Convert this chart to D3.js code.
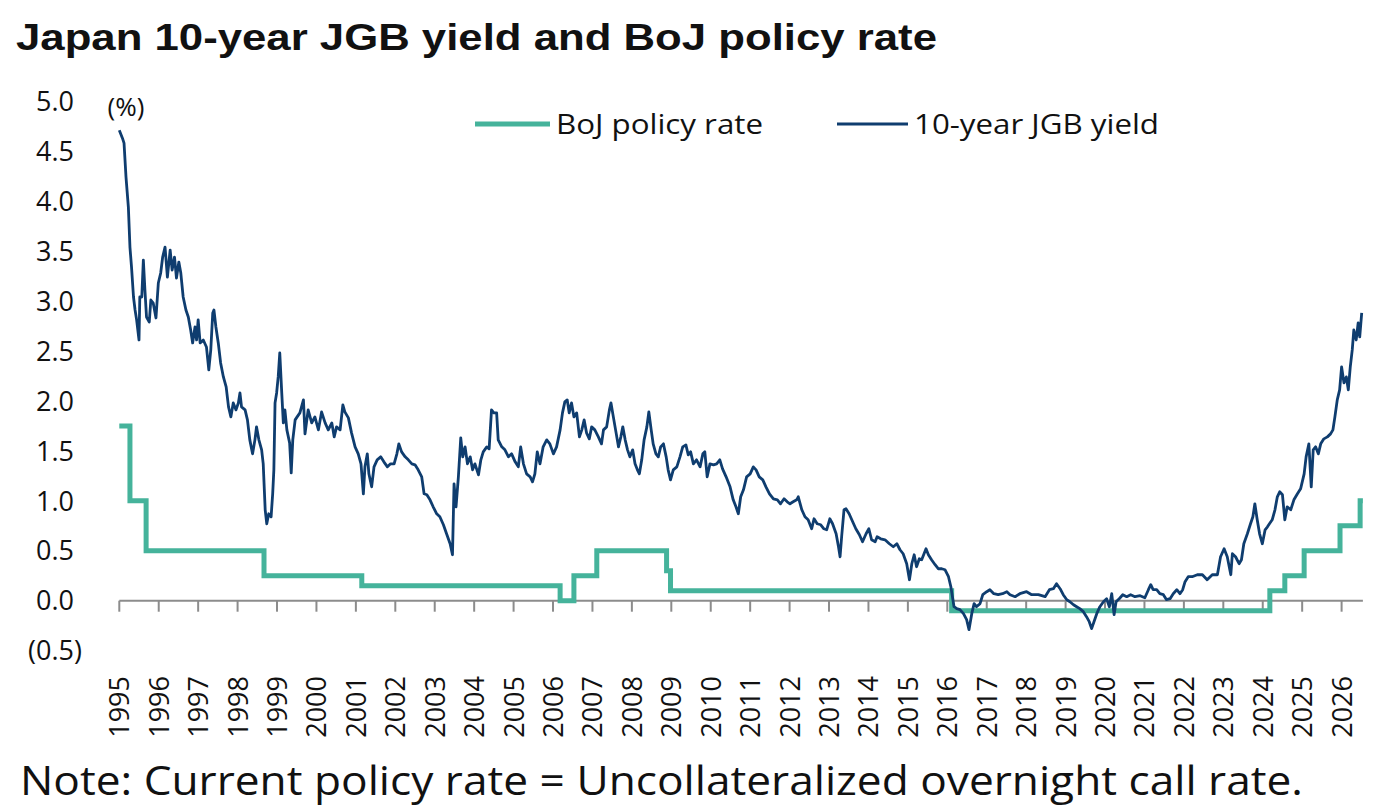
<!DOCTYPE html>
<html>
<head>
<meta charset="utf-8">
<script src="https://cdn.jsdelivr.net/npm/d3@7"></script>
<style>
  body { margin: 0; background: #fff; }
  #chart text { fill: #111; }
</style>
</head>
<body>
<div id="chart"></div>
<script>
// 10-year JGB yield (decimal year, %)
const jgbDates = [
  1995.00,1995.08,1995.12,1995.17,1995.23,1995.27,1995.31,1995.36,1995.40,1995.44,1995.50,1995.52,1995.57,1995.61,1995.65,1995.69,1995.76,1995.80,1995.86,1995.93,1995.99,
  1996.05,1996.10,1996.16,1996.22,1996.29,1996.34,1996.40,1996.45,1996.51,1996.56,1996.62,1996.69,1996.75,1996.81,1996.86,1996.92,1996.96,
  1997.00,1997.05,1997.13,1997.21,1997.27,1997.32,1997.37,1997.40,1997.45,1997.51,1997.57,1997.64,1997.71,1997.77,1997.83,1997.89,1997.96,
  1998.02,1998.06,1998.10,1998.19,1998.25,1998.31,1998.38,1998.44,1998.48,1998.54,1998.61,1998.65,1998.70,1998.74,1998.79,1998.85,1998.89,1998.92,1998.95,1998.99,
  1999.03,1999.07,1999.12,1999.16,1999.20,1999.25,1999.32,1999.36,1999.40,1999.46,1999.51,1999.58,1999.67,1999.71,1999.79,1999.88,1999.96,
  2000.05,2000.13,2000.22,2000.30,2000.39,2000.45,2000.51,2000.60,2000.67,2000.72,2000.81,2000.89,2000.98,
  2001.06,2001.13,2001.19,2001.23,2001.29,2001.33,2001.40,2001.46,2001.54,2001.63,2001.71,2001.80,2001.88,2001.97,
  2002.04,2002.09,2002.16,2002.25,2002.33,2002.42,2002.50,2002.58,2002.67,2002.73,2002.80,2002.88,2002.96,
  2003.05,2003.13,2003.22,2003.30,2003.39,2003.45,2003.49,2003.54,2003.60,2003.66,2003.71,2003.77,2003.83,2003.90,2003.96,
  2004.02,2004.11,2004.17,2004.23,2004.32,2004.38,2004.44,2004.50,2004.57,2004.61,2004.70,2004.78,2004.87,2004.95,
  2005.04,2005.12,2005.18,2005.25,2005.33,2005.42,2005.48,2005.54,2005.60,2005.67,2005.75,2005.84,2005.92,
  2006.01,2006.09,2006.18,2006.24,2006.30,2006.36,2006.41,2006.47,2006.53,2006.60,2006.67,2006.73,2006.79,2006.85,2006.92,2006.98,
  2007.06,2007.15,2007.23,2007.28,2007.36,2007.43,2007.47,2007.53,2007.60,2007.66,2007.72,2007.77,2007.83,2007.89,2007.95,
  2008.02,2008.08,2008.14,2008.19,2008.25,2008.31,2008.38,2008.43,2008.49,2008.54,2008.61,2008.67,2008.73,2008.80,2008.87,2008.92,2008.98,
  2009.05,2009.14,2009.22,2009.29,2009.37,2009.43,2009.49,2009.56,2009.64,2009.73,2009.80,2009.85,2009.91,2009.98,
  2010.07,2010.15,2010.23,2010.30,2010.39,2010.49,2010.57,2010.64,2010.70,2010.76,2010.83,2010.91,
  2011.00,2011.08,2011.15,2011.23,2011.32,2011.40,2011.49,2011.59,2011.69,2011.77,2011.86,2011.94,
  2012.01,2012.09,2012.18,2012.22,2012.31,2012.39,2012.47,2012.56,2012.62,2012.70,2012.79,2012.87,2012.94,
  2013.02,2013.09,2013.18,2013.24,2013.28,2013.32,2013.38,2013.43,2013.51,2013.60,2013.68,2013.77,2013.85,2013.94,
  2014.01,2014.08,2014.17,2014.22,2014.31,2014.42,2014.53,2014.63,2014.72,2014.80,2014.88,2014.97,
  2015.04,2015.10,2015.16,2015.22,2015.29,2015.35,2015.41,2015.46,2015.52,2015.60,2015.69,2015.77,2015.86,2015.94,
  2016.03,2016.09,2016.13,2016.17,2016.24,2016.32,2016.41,2016.49,2016.55,2016.62,2016.68,2016.74,2016.83,2016.90,
  2017.00,2017.08,2017.18,2017.29,2017.40,2017.51,2017.59,2017.72,2017.84,
  2018.01,2018.14,2018.31,2018.48,2018.59,2018.69,2018.77,2018.86,2018.94,
  2019.03,2019.11,2019.20,2019.28,2019.36,2019.45,2019.53,2019.60,2019.66,2019.72,2019.79,2019.87,2019.96,
  2020.04,2020.11,2020.17,2020.23,2020.28,2020.36,2020.45,2020.55,2020.65,2020.76,2020.89,
  2021.01,2021.10,2021.16,2021.22,2021.31,2021.39,2021.48,2021.56,2021.65,2021.73,2021.82,2021.90,2021.97,
  2022.03,2022.11,2022.21,2022.34,2022.47,2022.59,2022.72,2022.85,2022.93,
  2023.02,2023.10,2023.19,2023.23,2023.31,2023.40,2023.46,2023.52,2023.61,2023.69,2023.75,2023.80,2023.86,2023.92,2023.99,
  2024.06,2024.12,2024.17,2024.24,2024.31,2024.37,2024.43,2024.50,2024.56,2024.62,2024.71,2024.79,2024.88,2024.96,
  2025.05,2025.10,2025.17,2025.23,2025.28,2025.34,2025.41,2025.47,2025.55,2025.64,2025.72,2025.78,2025.83,2025.89,2025.95,
  2026.00,2026.06,2026.12,2026.17,2026.22,2026.27,2026.31,2026.37,2026.42,2026.46,2026.51
];
const jgbValues = [
  4.71,4.63,4.58,4.24,3.94,3.54,3.34,3.04,2.91,2.81,2.61,3.04,3.04,3.41,3.11,2.84,2.79,3.01,2.98,2.83,3.18,
  3.28,3.44,3.54,3.24,3.51,3.31,3.44,3.23,3.39,3.28,3.04,2.91,2.84,2.71,2.58,2.74,2.61,
  2.81,2.58,2.61,2.54,2.31,2.51,2.88,2.91,2.74,2.58,2.38,2.24,2.14,1.94,1.84,1.98,1.91,
  1.98,2.08,1.94,1.91,1.81,1.61,1.47,1.61,1.74,1.61,1.51,1.37,0.91,0.77,0.87,0.84,1.07,1.31,1.98,2.08,
  2.24,2.48,2.08,1.78,1.91,1.71,1.58,1.28,1.61,1.81,1.84,1.88,2.01,1.67,1.91,1.78,1.84,
  1.71,1.89,1.78,1.71,1.78,1.64,1.74,1.71,1.96,1.89,1.83,1.68,1.54,
  1.47,1.37,1.07,1.34,1.47,1.27,1.14,1.34,1.41,1.44,1.39,1.34,1.37,1.37,
  1.47,1.57,1.49,1.44,1.41,1.37,1.36,1.31,1.24,1.07,1.06,1.01,0.94,
  0.87,0.84,0.76,0.67,0.57,0.46,1.17,0.94,1.24,1.63,1.44,1.54,1.37,1.44,1.31,
  1.37,1.26,1.41,1.49,1.54,1.52,1.91,1.88,1.88,1.61,1.54,1.51,1.44,1.47,
  1.39,1.34,1.54,1.37,1.27,1.24,1.19,1.27,1.49,1.37,1.54,1.61,1.57,
  1.47,1.54,1.71,1.88,1.99,2.01,1.88,1.98,1.84,1.88,1.64,1.71,1.81,1.68,1.62,1.74,
  1.71,1.64,1.57,1.71,1.74,1.91,1.98,1.84,1.68,1.54,1.64,1.74,1.61,1.51,1.44,
  1.51,1.37,1.31,1.27,1.41,1.61,1.74,1.89,1.71,1.57,1.47,1.44,1.54,1.57,1.44,1.31,1.21,
  1.31,1.34,1.44,1.54,1.56,1.46,1.49,1.37,1.41,1.34,1.47,1.49,1.24,1.37,
  1.36,1.37,1.41,1.32,1.24,1.14,1.01,0.94,0.87,1.04,1.11,1.24,
  1.27,1.34,1.31,1.24,1.21,1.14,1.07,1.02,1.01,0.97,1.02,0.99,
  0.97,0.99,1.01,1.04,0.91,0.84,0.81,0.72,0.82,0.77,0.76,0.72,0.71,
  0.82,0.77,0.67,0.54,0.44,0.64,0.91,0.92,0.87,0.79,0.72,0.66,0.59,0.67,
  0.72,0.61,0.59,0.64,0.62,0.61,0.57,0.54,0.57,0.51,0.47,0.37,
  0.21,0.37,0.46,0.34,0.42,0.41,0.47,0.52,0.46,0.41,0.36,0.32,0.32,0.31,
  0.24,0.14,0.04,-0.06,-0.08,-0.09,-0.13,-0.19,-0.29,-0.13,-0.03,-0.06,-0.03,0.06,
  0.09,0.11,0.07,0.06,0.07,0.09,0.06,0.04,0.07,
  0.09,0.06,0.06,0.04,0.11,0.12,0.17,0.12,0.06,
  0.01,-0.01,-0.04,-0.06,-0.08,-0.11,-0.16,-0.21,-0.28,-0.21,-0.13,-0.06,-0.01,
  0.02,-0.06,0.07,-0.14,-0.01,0.02,0.06,0.04,0.06,0.04,0.05,
  0.03,0.11,0.16,0.11,0.11,0.07,0.06,0.01,0.02,0.07,0.11,0.07,0.11,
  0.19,0.24,0.24,0.26,0.26,0.21,0.26,0.26,0.44,
  0.52,0.44,0.26,0.47,0.44,0.37,0.41,0.57,0.67,0.77,0.84,0.97,0.81,0.67,0.57,
  0.71,0.74,0.77,0.81,0.91,1.04,1.09,1.06,0.81,0.94,0.91,1.01,1.07,1.12,
  1.27,1.44,1.57,1.14,1.51,1.54,1.47,1.57,1.62,1.64,1.67,1.71,1.84,2.01,2.11,
  2.34,2.18,2.24,2.11,2.34,2.51,2.71,2.61,2.78,2.64,2.88
];

// BoJ policy rate, step changes (decimal year, %)
const policyDates  = [1995.00, 1995.27, 1995.68, 1998.67, 2001.15, 2006.18, 2006.53, 2007.11, 2008.88, 2008.98, 2016.11, 2024.18, 2024.56, 2025.05, 2025.96, 2026.47, 2026.54];
const policyValues = [1.75,    1.00,    0.50,    0.25,    0.15,    0.00,    0.25,    0.50,    0.30,    0.10,    -0.10,   0.10,    0.25,    0.50,    0.75,    1.00,    1.00];

const years = d3.range(1995, 2027);
const yTicks = [-0.5, 0, 0.5, 1, 1.5, 2, 2.5, 3, 3.5, 4, 4.5, 5];
const seriesNames = ["BoJ policy rate", "10-year JGB yield"];

const W = 1379, H = 811;
const green = "#45b39b", navy = "#0f3d6f", axisGrey = "#8c8c8c";
const tickFont = "'Open Sans', 'Noto Sans', sans-serif";

const svg = d3.select("#chart").append("svg")
    .attr("width", W)
    .attr("height", H);

const x = d3.scaleLinear().domain([1995, 2026]).range([119.3, 1341.6]);
const y = d3.scaleLinear().domain([-0.5, 5]).range([650.65, 101.2]);
const xEnd = 2026.54;

// title (the source picture is a little stretched sideways, so pin the width)
svg.append("text")
    .attr("x", 16)
    .attr("y", 50)
    .attr("textLength", 921)
    .attr("lengthAdjust", "spacingAndGlyphs")
    .style("font-family", "'Liberation Sans', Arial, sans-serif")
    .style("font-weight", "bold")
    .style("font-size", "37px")
    .text("Japan 10-year JGB yield and BoJ policy rate");

// y labels (no axis line), centred under one another
svg.append("g")
    .selectAll("text")
    .data(yTicks)
    .enter().append("text")
    .attr("x", 55)
    .attr("y", d => y(d))
    .attr("dy", "0.36em")
    .attr("text-anchor", "middle")
    .style("font-family", tickFont)
    .style("font-size", "27px")
    .text(d => d < 0 ? `(${d3.format(".1f")(-d)})` : d3.format(".1f")(d));

svg.append("text")
    .attr("x", 126)
    .attr("y", y(5) + 5)
    .attr("dy", "0.36em")
    .attr("text-anchor", "middle")
    .style("font-family", tickFont)
    .style("font-size", "26px")
    .text("(%)");

// x axis on zero line
const xAxis = svg.append("g")
    .attr("transform", `translate(0, ${y(0)})`);

xAxis.append("line")
    .attr("x1", x(1995))
    .attr("x2", x(xEnd))
    .attr("stroke", axisGrey)
    .attr("stroke-width", 2);

xAxis.selectAll(".tick")
    .data(years)
    .enter().append("line")
    .attr("x1", d => x(d))
    .attr("x2", d => x(d))
    .attr("y1", 0)
    .attr("y2", 11)
    .attr("stroke", axisGrey)
    .attr("stroke-width", 2);

svg.append("g")
    .selectAll("text")
    .data(years)
    .enter().append("text")
    .attr("transform", d => `translate(${x(d) + 10}, 676) rotate(-90)`)
    .attr("text-anchor", "end")
    .style("font-family", tickFont)
    .style("font-size", "27px")
    .text(d => d);

// lines
const policy = policyDates.map((d, i) => ({ t: d, v: policyValues[i] }));
const jgb = jgbDates.map((d, i) => ({ t: d, v: jgbValues[i] }));

svg.append("path")
    .datum(policy)
    .attr("fill", "none")
    .attr("stroke", green)
    .attr("stroke-width", 5)
    .attr("d", d3.line().x(d => x(d.t)).y(d => y(d.v)).curve(d3.curveStepAfter));

svg.append("path")
    .datum(jgb)
    .attr("fill", "none")
    .attr("stroke", navy)
    .attr("stroke-width", 2.8)
    .attr("stroke-linejoin", "round")
    .attr("d", d3.line().x(d => x(d.t)).y(d => y(d.v)));

// legend
const legend = svg.append("g");
const legendItems = [
    { name: seriesNames[0], color: green, w: 5, x0: 475, x1: 550, len: 207 },
    { name: seriesNames[1], color: navy, w: 3, x0: 837, x1: 908, len: 245 }
];
legendItems.forEach(it => {
    legend.append("line")
        .attr("x1", it.x0).attr("x2", it.x1)
        .attr("y1", 124).attr("y2", 124)
        .attr("stroke", it.color)
        .attr("stroke-width", it.w);
    legend.append("text")
        .attr("x", it.x1 + 6)
        .attr("y", 124)
        .attr("dy", "0.36em")
        .attr("textLength", it.len)
        .attr("lengthAdjust", "spacingAndGlyphs")
        .style("font-family", tickFont)
        .style("font-size", "27px")
        .text(it.name);
});

// note
svg.append("text")
    .attr("x", 20)
    .attr("y", 795)
    .attr("textLength", 1283)
    .attr("lengthAdjust", "spacingAndGlyphs")
    .style("font-family", tickFont)
    .style("font-size", "40px")
    .text("Note: Current policy rate = Uncollateralized overnight call rate.");
</script>
</body>
</html>
